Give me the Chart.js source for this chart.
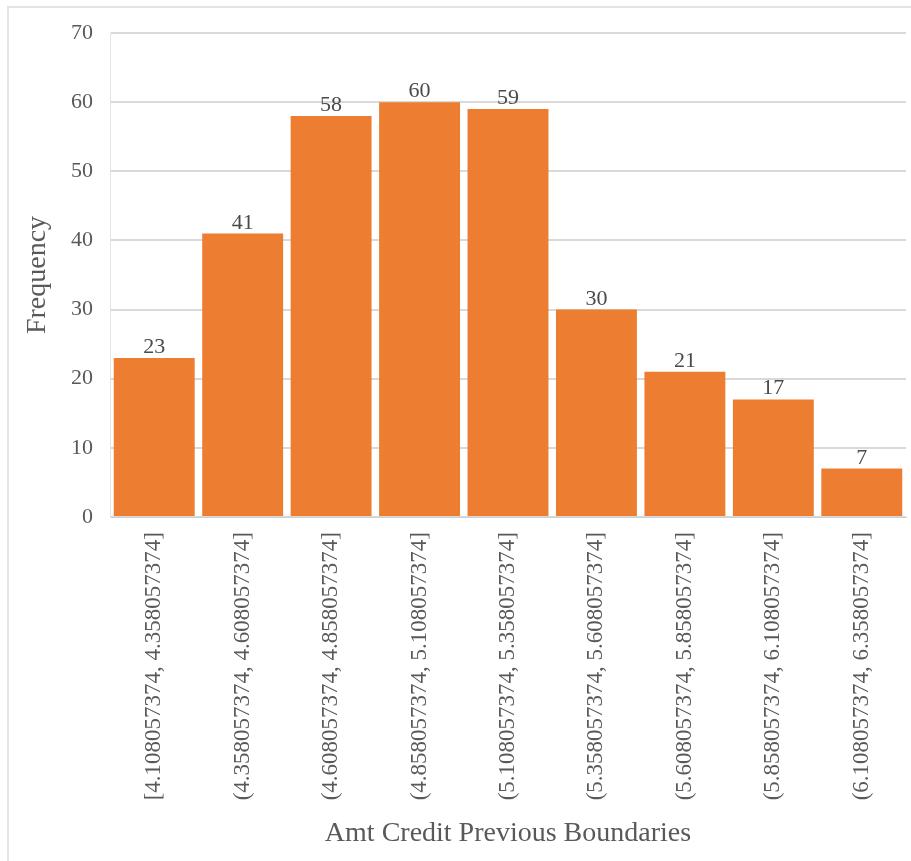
<!DOCTYPE html>
<html>
<head>
<meta charset="utf-8">
<script src="https://cdn.jsdelivr.net/npm/chart.js@4.4.1/dist/chart.umd.min.js"></script>
<style>
	html, body { margin: 0; padding: 0; background: #fff; overflow: hidden; }
	.frame {
		position: absolute; left: 7px; top: 6px; width: 960px; height: 900px;
		border-left: 2px solid #e4e4e4; border-top: 2px solid #e4e4e4;
	}
	.chart__container { position: absolute; left: 0; top: 0; width: 911px; height: 861px; }
</style>
</head>
<body>
<div class="frame"></div>
<div class="chart__container"><canvas id="chart1"></canvas></div>
<script>
// Histogram of previous credit amounts (log10 bins)

const bins = [
	"[4.108057374, 4.358057374]",
	"(4.358057374, 4.608057374]",
	"(4.608057374, 4.858057374]",
	"(4.858057374, 5.108057374]",
	"(5.108057374, 5.358057374]",
	"(5.358057374, 5.608057374]",
	"(5.608057374, 5.858057374]",
	"(5.858057374, 6.108057374]",
	"(6.108057374, 6.358057374]",
];
const frequency = [23, 41, 58, 60, 59, 30, 21, 17, 7];
const yTicks = [0, 10, 20, 30, 40, 50, 60, 70];

const serif = "'Liberation Serif', 'Times New Roman', serif";
const textGray = "#595959";

// draws the value above each bar
const valueLabels = {
	id: "valueLabels",
	afterDatasetsDraw(chart) {
		const ctx = chart.ctx;
		const meta = chart.getDatasetMeta(0);
		ctx.save();
		ctx.font = `22px ${serif}`;
		ctx.fillStyle = "#4a4a4a";
		ctx.textAlign = "center";
		ctx.textBaseline = "alphabetic";
		meta.data.forEach((bar, i) => {
			ctx.fillText(frequency[i], bar.x, bar.y - 5);
		});
		ctx.restore();
	},
};

const chart1const = document.getElementById("chart1").getContext("2d");
const chart1 = new Chart(chart1const, {
	type: "bar",
	data: {
		labels: bins,
		datasets: [
			{
				label: "Frequency",
				data: frequency,
				backgroundColor: "#ED7D31",
				borderWidth: 0,
				barPercentage: 0.915,
				categoryPercentage: 1,
			},
		],
	},
	options: {
		responsive: true,
		maintainAspectRatio: false,
		animation: false,
		layout: { padding: { top: 33, right: 5, left: 0, bottom: 0 } },
		plugins: {
			legend: { display: false },
			tooltip: { enabled: false },
		},
		scales: {
			x: {
				afterFit: (scale) => { scale.height = 344; },
				grid: { display: false, drawTicks: false },
				border: { color: "#d0d0d0", width: 1 },
				ticks: {
					color: textGray,
					font: { family: serif, size: 23 },
					minRotation: 90,
					maxRotation: 90,
					padding: 15,
					autoSkip: false,
				},
				title: {
					display: true,
					text: "Amt Credit Previous Boundaries",
					color: textGray,
					font: { family: serif, size: 28 },
					padding: { top: 0, bottom: 11 },
				},
			},
			y: {
				min: 0,
				max: 70,
				afterFit: (scale) => { scale.width = 110; },
				afterBuildTicks: (scale) => {
					scale.ticks = yTicks.map((v) => ({ value: v }));
				},
				grid: { color: "#d9d9d9", lineWidth: 2, drawTicks: false },
				border: { display: true, color: "#e4e4e4", width: 1 },
				ticks: {
					color: textGray,
					font: { family: serif, size: 22 },
					padding: 17,
				},
				title: {
					display: true,
					text: "Frequency",
					color: textGray,
					font: { family: serif, size: 28 },
					padding: { top: 21, bottom: 0 },
				},
			},
		},
	},
	plugins: [valueLabels],
});
</script>
</body>
</html>
